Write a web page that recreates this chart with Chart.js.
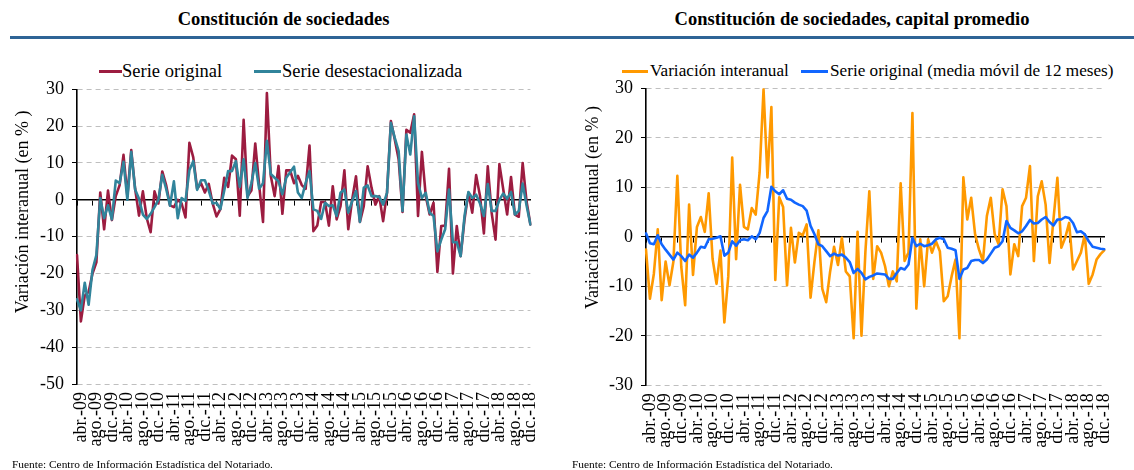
<!DOCTYPE html>
<html><head><meta charset="utf-8">
<script src="https://cdn.jsdelivr.net/npm/chart.js@4.4.1/dist/chart.umd.min.js"></script>
<style>
html,body{margin:0;padding:0;background:#fff;}
body{width:1134px;height:470px;position:relative;overflow:hidden;font-family:'Liberation Serif','Times New Roman',serif;color:#000;}
.title{position:absolute;top:9px;font-weight:bold;font-size:18.5px;text-align:center;white-space:nowrap;}
.rule{position:absolute;top:36px;height:3px;background:#2F6496;}
.leg{position:absolute;top:61px;white-space:nowrap;line-height:20px;}
.sw{position:absolute;height:3px;}
.src{position:absolute;top:458px;font-size:11.4px;white-space:nowrap;}
canvas{position:absolute;}
</style></head><body>
<div class="title" style="left:0;width:567px;">Constitución de sociedades</div>
<div class="title" style="left:570px;width:564px;">Constitución de sociedades, capital promedio</div>
<div class="rule" style="left:10px;width:1124px;"></div>

<div class="sw" style="left:99px;top:70px;width:23px;background:#9C1C40;"></div>
<div class="leg" style="left:122px;font-size:18.5px;">Serie original</div>
<div class="sw" style="left:254px;top:70px;width:27px;background:#31849B;"></div>
<div class="leg" style="left:282px;font-size:18.5px;">Serie desestacionalizada</div>

<div class="sw" style="left:622px;top:70px;width:26px;background:#FF9900;"></div>
<div class="leg" style="left:650px;font-size:17.2px;">Variación interanual</div>
<div class="sw" style="left:801px;top:70px;width:27px;background:#1166FF;"></div>
<div class="leg" style="left:830px;font-size:17.2px;">Serie original (media móvil de 12 meses)</div>

<canvas id="c1" width="560" height="410" style="left:0;top:50px;"></canvas>
<canvas id="c2" width="564" height="410" style="left:570px;top:50px;"></canvas>

<div class="src" style="left:12px;">Fuente: Centro de Información Estadística del Notariado.</div>
<div class="src" style="left:572px;">Fuente: Centro de Información Estadística del Notariado.</div>

<script>
const monthNames = ['ene.','feb.','mar.','abr.','may.','jun.','jul.','ago.','sep.','oct.','nov.','dic.'];
const years = ['09','10','11','12','13','14','15','16','17','18'];
// categories: mar.-09 ... dic.-18
const categories = [];
years.forEach((y, yi) => monthNames.forEach((m, mi) => { if (yi > 0 || mi >= 2) categories.push(m + '-' + y); }));

const serieOriginal = [-15,-33,-26,-25,-20,-17,2,-8,2.5,-5.5,
 1,4,12.2,1,13.5,3,-4.3,2.3,-5,-8.8,
 2.3,-1,7.7,4,-1.5,-2,0,-1,-4.8,15.5,
 11.5,3,4.5,2,4.3,-1,-4.5,-2.5,6,3.5,
 12,11,-4.3,21.7,1,2.5,15.3,4,-6,29,
 6.5,1,9.2,-3.8,8,8,4.5,6.5,4,3,
 14.7,-8.5,-7,-0.6,-0.6,-7,3.7,-5.3,-1.7,8,
 -8,0,6.4,-6,-1.7,9.1,3.3,-1.3,1,-5.8,
 2,21.4,16.4,11,-3.3,19,18.2,23.2,-4.4,13,
 1,-4,-0.8,-19.6,-7.1,-7,8.4,-20,-7.1,-15.3,
 -5.3,1.9,-3.5,6.7,1,-9.1,9.1,-3.5,-10.8,9.7,
 2.8,-4,6.2,-4,-4.6,10,-0.4,-6.7];
const serieDesest = [-27,-30,-22.5,-28.5,-19,-15,0.5,-5,-1.5,-5.3,
 5.2,4.5,10.3,0,13,2.8,0.3,-4,-5.2,-3.8,
 -2,0,6.8,3,-1.6,5,-5,0.5,-0.3,8,
 10.5,2.7,5.3,5.3,2.5,-1,-0.8,-2.5,2.5,7.8,
 7.8,10.5,3.5,11,0.5,4.5,10,3,4.5,16,
 7,6,5,1.5,6,7.5,9,2,0.5,4.6,
 7.8,-2.6,-3,-5.2,-0.8,-1.7,-1.5,-4.4,1.9,2.8,
 -3.5,-0.4,2.4,-6,3.3,3.9,1,1,0.8,-1.3,
 1.9,20.9,16.8,13.2,-3,17.7,12.3,22.7,4.6,0.5,
 1.9,-3.5,-4.4,-14,-10.8,-8,2.8,-11.5,-11.5,-15.3,
 -4.4,2.1,0.5,1.4,-1,-4.4,4.3,-3,-3,0,
 1.7,0.3,2.1,-4,-3,4.4,-1.5,-6.7];
const variacionInteranual = [-2.6,-12.5,-7.5,1.5,-12.8,-5,-9.8,-5,12.3,-6,
 -13.8,6.5,-7.7,2,4,1,8.8,-4.5,-9.5,-2.8,
 -17.3,-8,16,-4.5,10.5,2,1.5,5.8,4.5,13,
 29.8,12,26.2,-8.7,8,6,-9.8,1.8,-5.2,0.8,
 0.3,2.5,-12.3,-5,1.3,-10.5,-13.2,-7,-2,-5.7,
 -0.2,-7,-8,-20.5,1,-20,-3,9.2,-8.5,-1.9,
 -3.2,-5.9,-10,-7,-9,10.8,-4.9,-3.2,25,-14.5,
 -0.5,-10,-0.5,-3.2,-0.9,-2.9,-13,-12,-8,-4.6,
 -20.5,12,3.5,7.9,0.5,-2.6,-4.9,4.2,7.9,0.5,
 -1.5,9.6,6.2,-7.6,-1.5,-3.9,6.2,7.9,14.3,-4.9,
 8.2,11.2,6.5,-5.3,3.5,11.9,-2.2,-0.2,2.8,-6.6,
 -4.9,-3.2,0.5,-9.5,-7.6,-4.6,-3.5,-2.7];
const mediaMovil = [0.7,-1.3,-1.5,0.3,-1.5,-2.6,-3.6,-4.6,-3.2,-3.9,
 -4.9,-3.6,-4.2,-3.2,-2,-2.2,-0.5,-0.4,-0.2,0.1,
 -3.8,-3.2,-0.9,-1.8,-0.7,-0.5,-0.7,0.1,-0.5,0.8,
 3.8,5.2,10.1,9.2,8.6,9.4,7.7,7.5,6.9,6.5,
 6.2,5.3,2.2,0.5,-1.5,-1.9,-2.9,-3.9,-3.4,-3.8,
 -3.6,-4.2,-5.1,-7.3,-6.5,-7.3,-8.6,-8.1,-7.8,-7.4,
 -7.5,-7.6,-8.5,-8.5,-7.3,-6.3,-6.6,-5.6,-0.2,-1.9,
 -1.4,-1.9,-1.7,-1.4,-0.5,-0.2,-0.5,-2.2,-2.4,-2.7,
 -8.5,-6.6,-6.3,-4.9,-4.7,-4.7,-5.3,-4.6,-3.4,-2.2,
 -1.9,-0.9,3.2,1.8,1.3,0.7,1.1,2.2,3.4,2.7,
 2.8,3.5,4,3,2.3,3.5,3.5,4,3.8,2.8,
 0.9,1.1,0.5,-0.9,-2,-2.2,-2.4,-2.5];

const FONT = "'Liberation Serif','Times New Roman',serif";
const AXIS_TITLE = 'Variación interanual (en % )';

function lineDs(label, data, color, order) {
  return {label, data, borderColor: color, backgroundColor: color, borderWidth: 2.6,
    pointRadius: 0, pointHoverRadius: 0, tension: 0, fill: false,
    borderJoinStyle: 'round', borderCapStyle: 'round', order};
}

function makeChart(id, datasets, yMin, yMax, yWidth, pad, xHeight, titlePad, lead) {
  return new Chart(document.getElementById(id), {
    type: 'line',
    data: {labels: categories, datasets},
    options: {
      responsive: false, animation: false, devicePixelRatio: 1,
      layout: {padding: pad},
      plugins: {legend: {display: false}, tooltip: {enabled: false}},
      scales: {
        x: {
          type: 'category', position: 'bottom', offset: false,
          grid: {display: false, drawTicks: false},
          border: {display: false},
          ticks: {autoSkip: false, minRotation: 90, maxRotation: 90, padding: 8, color: '#000',
            font: {family: FONT, size: 18},
            callback: (v, i) => (i % 4 === 1 ? categories[i] : '')},
          afterFit: s => { s.height = xHeight; }
        },
        x2: {
          type: 'category', position: {y: 0}, offset: false,
          grid: {display: true, drawOnChartArea: false, drawTicks: true, tickLength: 5, tickWidth: 1,
            tickColor: c => (c.index % 4 === 0 ? '#000' : 'rgba(0,0,0,0)')},
          border: {display: true, color: '#000', width: 1.6},
          ticks: {display: false, autoSkip: false}
        },
        y: {
          min: yMin, max: yMax,
          ticks: {stepSize: 10, color: '#000', padding: 8, font: {family: FONT, size: 18}},
          grid: {color: '#BFBFBF', lineWidth: 1, drawTicks: true, tickLength: 5, tickColor: '#000', tickWidth: 1},
          border: {display: true, color: '#000', width: 1.6, dash: [5, 4]},
          title: {display: true, text: '\u00A0'.repeat(lead) + AXIS_TITLE, color: '#000',
            font: {family: FONT, size: 18}, padding: titlePad},
          afterFit: s => { s.width = yWidth; }
        }
      }
    }
  });
}

makeChart('c1', [
  lineDs('Serie original', serieOriginal, '#9C1C40', 1),
  lineDs('Serie desestacionalizada', serieDesest, '#31849B', 0)
], -50, 30, 77, {left: 0, right: 29, top: 39.3, bottom: 0}, 76, {top: 12, bottom: 0}, 11);

makeChart('c2', [
  lineDs('Variación interanual', variacionInteranual, '#FF9900', 1),
  lineDs('Serie original (media móvil de 12 meses)', mediaMovil, '#1166FF', 0)
], -30, 30, 76, {left: 0, right: 26, top: 38.3, bottom: 0}, 74.7, {top: 12, bottom: 0}, 13);
</script>
</body></html>
